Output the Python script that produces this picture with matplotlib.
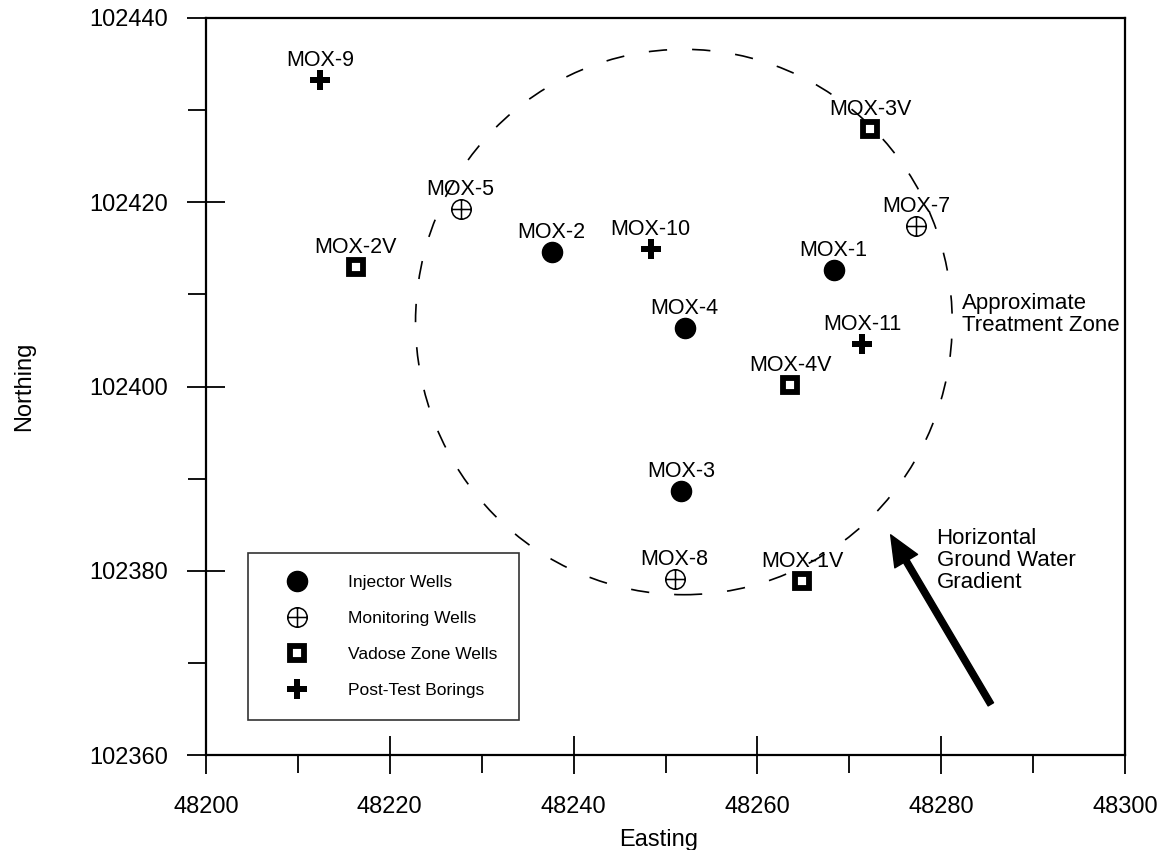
import matplotlib
matplotlib.use('Agg')
import matplotlib.pyplot as plt
from matplotlib.path import Path
from matplotlib.patches import Ellipse

plt.rcParams['font.family'] = ['Liberation Sans', 'DejaVu Sans']

# well locations (Easting, Northing)
inj_names = ['MOX-1', 'MOX-2', 'MOX-3', 'MOX-4']
inj_x = [48268.3, 48237.6, 48251.7, 48252.1]
inj_y = [102412.7, 102414.6, 102388.7, 102406.4]

mon_names = ['MOX-5', 'MOX-7', 'MOX-8']
mon_x = [48227.7, 48277.3, 48251.0]
mon_y = [102419.3, 102417.4, 102379.1]

vad_names = ['MOX-1V', 'MOX-2V', 'MOX-3V', 'MOX-4V']
vad_x = [48264.9, 48216.3, 48272.3, 48263.6]
vad_y = [102378.9, 102413.0, 102428.0, 102400.2]

bor_names = ['MOX-9', 'MOX-10', 'MOX-11']
bor_x = [48212.4, 48248.4, 48271.4]
bor_y = [102433.3, 102414.9, 102404.6]

# approximate treatment zone (centre, diameters)
zone_center = (48252.0, 102407.0)
zone_w = 58.4
zone_h = 59.2

# ground water gradient arrow (tail -> head)
arrow_tail = (48285.4, 102365.5)
arrow_head = (48274.5, 102383.9)

# circle with a cross, for monitoring wells
circ = Path.unit_circle()
cross = Path([[-1, 0], [1, 0], [0, -1], [0, 1]],
             [Path.MOVETO, Path.LINETO, Path.MOVETO, Path.LINETO])
mon_marker = Path.make_compound_path(circ, cross)

fig = plt.figure(figsize=(11.66, 8.5), dpi=100)
ax = fig.add_axes([206 / 1166, 95 / 850, 919 / 1166, 737 / 850])

ax.plot(inj_x, inj_y, linestyle='none', marker='o', ms=14.5,
        color='black', label='Injector Wells')
ax.plot(mon_x, mon_y, linestyle='none', marker=mon_marker, ms=14,
        mfc='none', mec='black', mew=1.1, label='Monitoring Wells')
ax.plot(vad_x, vad_y, linestyle='none', marker='s', ms=9.8,
        mfc='white', mec='black', mew=4.2, label='Vadose Zone Wells')
ax.plot(bor_x, bor_y, linestyle='none', marker='P', ms=15,
        color='black', mew=0, label='Post-Test Borings')

for names, xs, ys in [(inj_names, inj_x, inj_y), (mon_names, mon_x, mon_y),
                      (vad_names, vad_x, vad_y), (bor_names, bor_x, bor_y)]:
    for n, x, y in zip(names, xs, ys):
        ax.annotate(n, (x, y), xytext=(0, 10), textcoords='offset points',
                    ha='center', va='baseline', fontsize=15.5)

zone = Ellipse(zone_center, zone_w, zone_h, fill=False, edgecolor='black',
               lw=1.2, linestyle=(0, (11, 15)))
ax.add_patch(zone)

ax.annotate('', xy=arrow_head, xytext=arrow_tail,
            arrowprops=dict(facecolor='black', edgecolor='black', width=4.5,
                            headwidth=19, headlength=22, shrink=0))

ax.text(48282.3, 102407.8, 'Approximate\nTreatment Zone', ha='left',
        va='center', fontsize=16, linespacing=1.05)
ax.text(48279.5, 102381.1, 'Horizontal\nGround Water\nGradient', ha='left',
        va='center', fontsize=16, linespacing=1.05)

ax.set_xlim(48200, 48300)
ax.set_ylim(102360, 102440)
ax.set_xticks(range(48200, 48301, 20))
ax.set_xticks(range(48210, 48300, 20), minor=True)
ax.set_yticks(range(102360, 102441, 20))
ax.set_yticks(range(102370, 102440, 20), minor=True)
ax.ticklabel_format(useOffset=False, style='plain')

ax.tick_params(which='major', direction='inout', length=27, width=1.3,
               labelsize=17)
ax.tick_params(axis='x', which='major', pad=16)
ax.tick_params(axis='y', which='major', pad=14)
ax.tick_params(which='minor', direction='out', length=13, width=1.3)
for s in ax.spines.values():
    s.set_linewidth(1.6)

ax.set_xlabel('Easting', fontsize=17)
ax.set_ylabel('Northing', fontsize=17)
ax.xaxis.set_label_coords(0.492, -0.100)
ax.yaxis.set_label_coords(-0.186, 0.5)

leg = ax.legend(loc='upper left', bbox_to_anchor=(0.0454, 0.274),
                fontsize=12.5, frameon=True, fancybox=False,
                edgecolor='black', borderpad=1.25, labelspacing=1.2,
                handlelength=3.2, handletextpad=1.3, borderaxespad=0,
                numpoints=1)
leg.get_frame().set_linewidth(1.2)

fig.savefig('out.png', dpi=100)
